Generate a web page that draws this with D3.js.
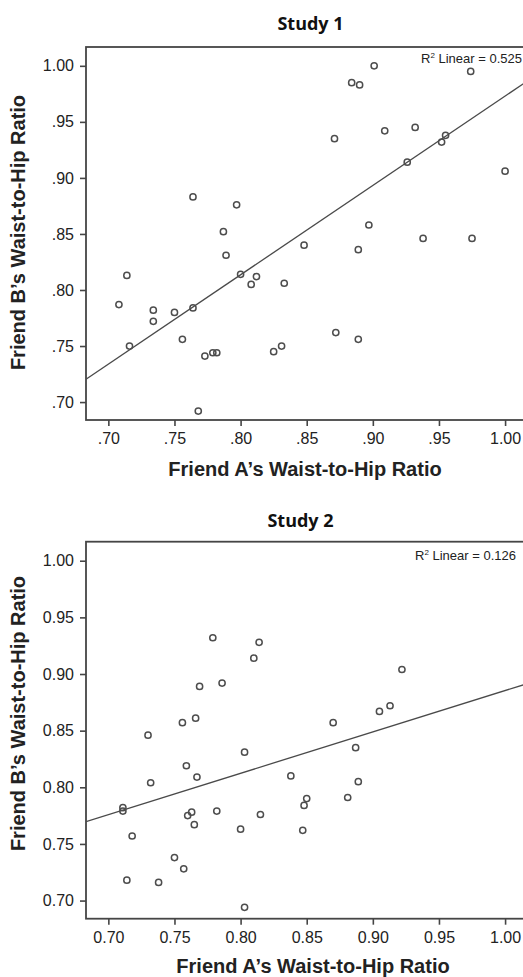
<!DOCTYPE html>
<html>
<head>
<meta charset="utf-8">
<script src="https://cdn.jsdelivr.net/npm/d3@7/dist/d3.min.js"></script>
<style>
  html, body { margin: 0; padding: 0; background: #fff; overflow: hidden; }
  svg { display: block; }
</style>
</head>
<body>
<script>
// Tick values shared by both panels
const tickValues = [0.70, 0.75, 0.80, 0.85, 0.90, 0.95, 1.00];

// Study 1: waist-to-hip ratios of friend pairs
const study1A = [0.901, 0.884, 0.890, 0.974, 0.871, 0.909, 0.932, 0.952, 0.955, 0.926,
                 1.000, 0.764, 0.797, 0.787, 0.789, 0.897, 0.848, 0.889, 0.938, 0.975,
                 0.714, 0.800, 0.812, 0.808, 0.833, 0.708, 0.734, 0.734, 0.750, 0.764,
                 0.716, 0.756, 0.773, 0.779, 0.782, 0.768, 0.825, 0.831, 0.872, 0.889];
const study1B = [1.000, 0.985, 0.983, 0.995, 0.935, 0.942, 0.945, 0.932, 0.938, 0.914,
                 0.906, 0.883, 0.876, 0.852, 0.831, 0.858, 0.840, 0.836, 0.846, 0.846,
                 0.813, 0.814, 0.812, 0.805, 0.806, 0.787, 0.782, 0.772, 0.780, 0.784,
                 0.750, 0.756, 0.741, 0.744, 0.744, 0.692, 0.745, 0.750, 0.762, 0.756];
// Linear fit (intercept, slope) and its R-squared
const study1Fit = [0.1757, 0.7973];
const study1R2 = "0.525";

// Study 2: waist-to-hip ratios of friend pairs
const study2A = [0.779, 0.814, 0.810, 0.786, 0.769, 0.922, 0.756, 0.766, 0.730, 0.870,
                 0.905, 0.913, 0.887, 0.803, 0.759, 0.767, 0.732, 0.838, 0.889, 0.711,
                 0.711, 0.850, 0.848, 0.881, 0.760, 0.763, 0.765, 0.782, 0.815, 0.800,
                 0.847, 0.718, 0.750, 0.757, 0.714, 0.738, 0.803];
const study2B = [0.932, 0.928, 0.914, 0.892, 0.889, 0.904, 0.857, 0.861, 0.846, 0.857,
                 0.867, 0.872, 0.835, 0.831, 0.819, 0.809, 0.804, 0.810, 0.805, 0.782,
                 0.779, 0.790, 0.784, 0.791, 0.775, 0.778, 0.767, 0.779, 0.776, 0.763,
                 0.762, 0.757, 0.738, 0.728, 0.718, 0.716, 0.694];
const study2Fit = [0.5203, 0.3651];
const study2R2 = "0.126";

const W = 523, H = 977;
const svg = d3.select("body").append("svg").attr("width", W).attr("height", H);

const sans = "'Liberation Sans', Arial, Helvetica, sans-serif";
const ink = "#222";
const frameColor = "#454545";

const fmtShort = v => (v >= 1 ? d3.format(".2f")(v) : d3.format(".2f")(v).replace(/^0/, ""));
const fmtLong = d3.format(".2f");

function drawPanel(p) {
  const x = d3.scaleLinear().domain([0.6831, 1.0168]).range([p.left, p.right]);
  const y = d3.scaleLinear().domain([0.684, 1.0168]).range([p.bottom, p.top]);
  const g = svg.append("g");

  const clipId = "clip-" + p.id;
  svg.append("defs").append("clipPath").attr("id", clipId)
    .append("rect").attr("x", p.left).attr("y", p.top)
    .attr("width", p.right - p.left).attr("height", p.bottom - p.top);

  // Title
  g.append("text")
    .attr("x", p.titleX).attr("y", p.titleY)
    .attr("text-anchor", "middle")
    .style("font-family", "'Open Sans', sans-serif")
    .style("font-weight", 700).style("font-size", "18px")
    .style("fill", "#111")
    .text(p.title);

  // Axes
  const yAxis = d3.axisLeft(y).tickValues(tickValues).tickFormat(p.fmt).tickSize(6).tickPadding(6);
  const xAxis = d3.axisBottom(x).tickValues(tickValues).tickFormat(p.fmt).tickSize(6).tickPadding(7);

  const ya = g.append("g").attr("transform", `translate(${p.left},0)`).call(yAxis);
  const xa = g.append("g").attr("transform", `translate(0,${p.bottom})`).call(xAxis);
  [ya, xa].forEach(a => {
    a.select(".domain").remove();
    a.selectAll(".tick line").attr("stroke", frameColor).attr("stroke-width", 1.6);
    a.selectAll(".tick text").style("font-family", sans).style("font-size", "16px").style("fill", ink);
  });

  // Frame
  g.append("rect")
    .attr("x", p.left).attr("y", p.top)
    .attr("width", p.right - p.left).attr("height", p.bottom - p.top)
    .attr("fill", "none").attr("stroke", frameColor).attr("stroke-width", 1.8);

  // Fit line across the full x range
  const [b0, b1] = p.fit;
  const [x0, x1] = x.domain();
  g.append("line")
    .attr("clip-path", `url(#${clipId})`)
    .attr("x1", x(x0)).attr("y1", y(b0 + b1 * x0))
    .attr("x2", x(x1)).attr("y2", y(b0 + b1 * x1))
    .attr("stroke", "#4a4a4a").attr("stroke-width", 1.3);

  // Points
  g.append("g").selectAll("circle")
    .data(p.xs.map((v, i) => [v, p.ys[i]]))
    .join("circle")
    .attr("cx", d => x(d[0])).attr("cy", d => y(d[1]))
    .attr("r", 3.1)
    .attr("fill", "none").attr("stroke", "#4d4d4d").attr("stroke-width", 1.5);

  // R-squared note
  const r2 = g.append("text")
    .attr("x", p.r2X).attr("y", p.r2Y)
    .attr("text-anchor", "end")
    .style("font-family", sans).style("font-size", "13px").style("fill", ink);
  r2.append("tspan").text("R");
  r2.append("tspan").attr("dy", -5).style("font-size", "8px").text("2");
  r2.append("tspan").attr("dy", 5).text(" Linear = " + p.r2);

  // Axis titles
  g.append("text")
    .attr("x", p.xLabelX).attr("y", p.xLabelY)
    .attr("text-anchor", "middle")
    .style("font-family", sans).style("font-weight", 700).style("font-size", "20px").style("fill", ink)
    .text("Friend A\u2019s Waist-to-Hip Ratio");

  g.append("text")
    .attr("transform", `translate(25,${p.yLabelY}) rotate(-90)`)
    .attr("text-anchor", "middle")
    .style("font-family", sans).style("font-weight", 700).style("font-size", "20px").style("fill", ink)
    .text("Friend B\u2019s Waist-to-Hip Ratio");
}

drawPanel({
  id: "s1", title: "Study 1", titleX: 310.5, titleY: 29.5,
  left: 86, right: 527.3, top: 47, bottom: 420,
  xs: study1A, ys: study1B, fit: study1Fit, r2: study1R2, r2X: 522, r2Y: 62.5, fmt: fmtShort,
  xLabelX: 305, xLabelY: 476, yLabelY: 232.5
});

drawPanel({
  id: "s2", title: "Study 2", titleX: 300.5, titleY: 527,
  left: 86, right: 527.3, top: 541.7, bottom: 918.7,
  xs: study2A, ys: study2B, fit: study2Fit, r2: study2R2, r2X: 516, r2Y: 559.5, fmt: fmtLong,
  xLabelX: 313, xLabelY: 972.5, yLabelY: 713.5
});
</script>
</body>
</html>
